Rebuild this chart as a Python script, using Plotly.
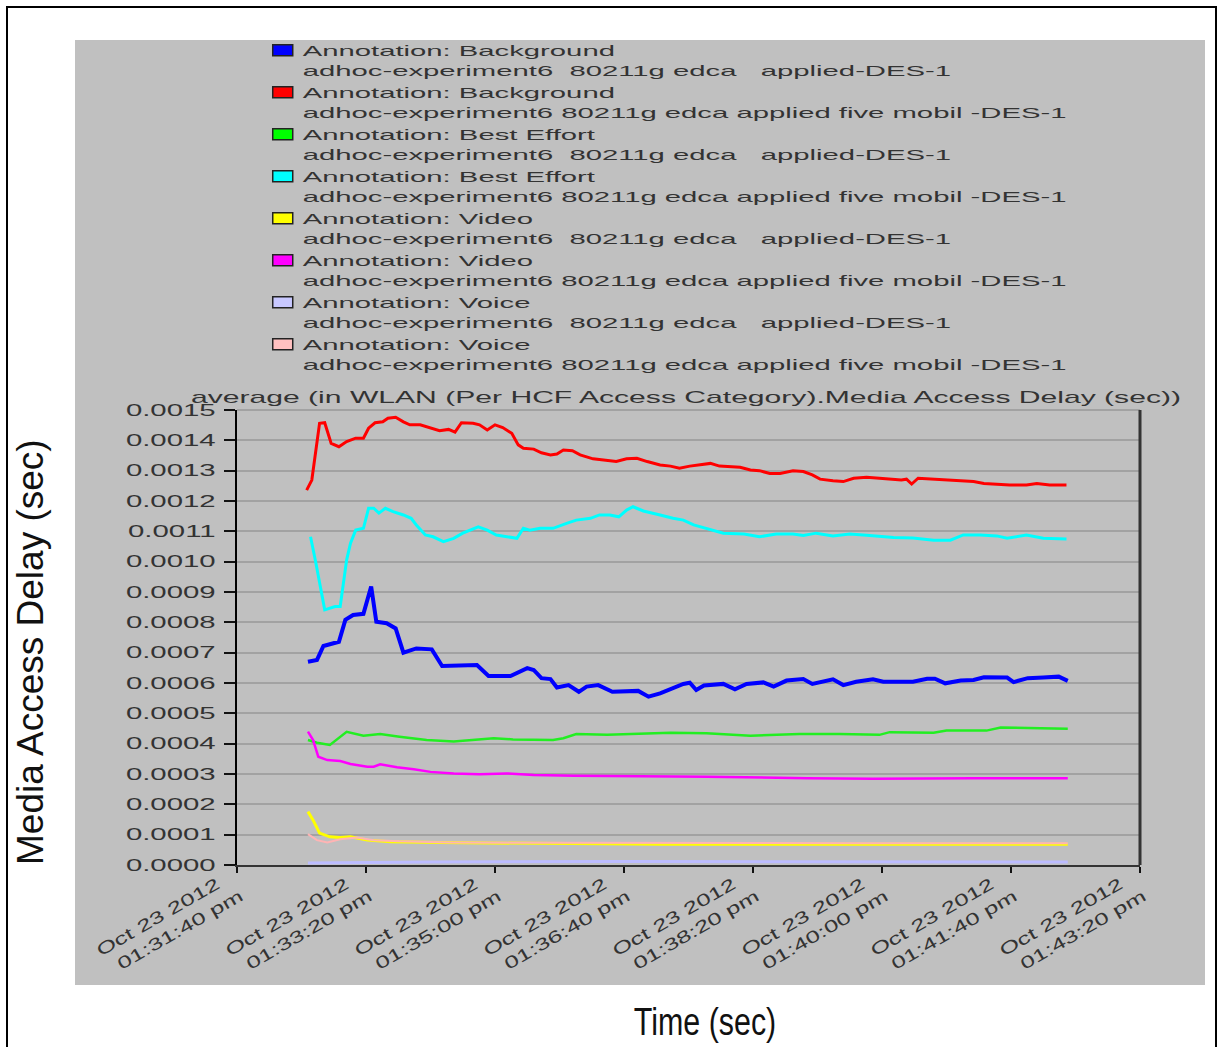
import pandas as pd
import plotly.graph_objects as go

# Simulation clock: samples are stored as elapsed seconds after 01:31:40 pm.
start = pd.Timestamp("2012-10-23 13:31:40")

# (elapsed seconds, media access delay in seconds)
bg_applied = [(55, 0.000670), (62, 0.000676), (67, 0.000722), (73, 0.000729), (79, 0.000736),
              (84, 0.000808), (90, 0.000824), (98, 0.000828), (104, 0.000918), (108, 0.000802),
              (116, 0.000797), (123, 0.000780), (129, 0.000700), (139, 0.000714), (151, 0.000711),
              (159, 0.000656), (170, 0.000656), (186, 0.000659), (195, 0.000623), (212, 0.000623),
              (225, 0.000649), (230, 0.000643), (236, 0.000616), (243, 0.000613), (248, 0.000585),
              (257, 0.000593), (265, 0.000571), (271, 0.000588), (280, 0.000593), (291, 0.000571),
              (311, 0.000574), (319, 0.000555), (328, 0.000566), (336, 0.000579), (346, 0.000597),
              (351, 0.000601), (356, 0.000577), (362, 0.000592), (377, 0.000597), (386, 0.000579),
              (395, 0.000597), (408, 0.000602), (416, 0.000588), (426, 0.000608), (439, 0.000613),
              (446, 0.000597), (462, 0.000612), (470, 0.000593), (480, 0.000604), (493, 0.000612),
              (501, 0.000604), (524, 0.000604), (535, 0.000614), (541, 0.000614), (549, 0.000599),
              (561, 0.000608), (571, 0.000610), (579, 0.000619), (597, 0.000618), (602, 0.000603),
              (613, 0.000616), (625, 0.000618), (637, 0.000621), (644, 0.000607)]

bg_mobile = [(54, 0.001236), (58, 0.001269), (64, 0.001456), (68, 0.001458), (73, 0.001390),
             (79, 0.001379), (85, 0.001396), (92, 0.001407), (98, 0.001407), (102, 0.001440),
             (107, 0.001458), (113, 0.001461), (117, 0.001473), (123, 0.001476), (129, 0.001461),
             (134, 0.001451), (142, 0.001451), (150, 0.001440), (157, 0.001432), (164, 0.001436),
             (169, 0.001427), (174, 0.001458), (183, 0.001456), (188, 0.001451), (194, 0.001434),
             (200, 0.001451), (206, 0.001442), (213, 0.001423), (218, 0.001385), (222, 0.001374),
             (230, 0.001371), (236, 0.001359), (243, 0.001352), (248, 0.001355), (253, 0.001368),
             (260, 0.001366), (266, 0.001352), (276, 0.001339), (287, 0.001335), (294, 0.001330),
             (302, 0.001339), (310, 0.001341), (318, 0.001330), (328, 0.001319), (336, 0.001315),
             (343, 0.001308), (351, 0.001315), (359, 0.001319), (367, 0.001324), (374, 0.001315),
             (390, 0.001311), (398, 0.001302), (405, 0.001300), (413, 0.001291), (421, 0.001291),
             (431, 0.001300), (439, 0.001297), (446, 0.001286), (452, 0.001272), (462, 0.001267),
             (470, 0.001264), (478, 0.001275), (488, 0.001278), (498, 0.001275), (509, 0.001272),
             (515, 0.001269), (519, 0.001272), (523, 0.001256), (528, 0.001275), (540, 0.001272),
             (555, 0.001269), (571, 0.001264), (579, 0.001258), (589, 0.001256), (599, 0.001253),
             (612, 0.001253), (620, 0.001258), (630, 0.001253), (643, 0.001253)]

be_applied = [(55, 0.000412), (62, 0.000403), (72, 0.000396), (79, 0.000418), (85, 0.000439),
              (98, 0.000426), (111, 0.000432), (126, 0.000423), (147, 0.000412), (168, 0.000407),
              (183, 0.000412), (199, 0.000418), (214, 0.000414), (245, 0.000412), (253, 0.000418),
              (263, 0.000432), (287, 0.000429), (307, 0.000432), (336, 0.000436), (364, 0.000434),
              (398, 0.000426), (436, 0.000432), (467, 0.000432), (498, 0.000429), (506, 0.000438),
              (540, 0.000436), (550, 0.000443), (581, 0.000443), (592, 0.000453), (623, 0.000451),
              (644, 0.000449)]

be_mobile = [(57, 0.001082), (61, 0.000999), (68, 0.000841), (76, 0.000852), (80, 0.000852),
             (85, 0.001006), (88, 0.001061), (92, 0.001104), (98, 0.001110), (102, 0.001176),
             (106, 0.001176), (110, 0.001160), (115, 0.001176), (121, 0.001165), (129, 0.001154),
             (135, 0.001143), (139, 0.001121), (146, 0.001088), (152, 0.001082), (160, 0.001066),
             (168, 0.001077), (175, 0.001094), (187, 0.001115), (194, 0.001104), (201, 0.001088),
             (209, 0.001082), (217, 0.001077), (222, 0.001110), (227, 0.001104), (235, 0.001110),
             (245, 0.001110), (256, 0.001127), (263, 0.001137), (274, 0.001143), (281, 0.001154),
             (289, 0.001154), (296, 0.001148), (302, 0.001170), (307, 0.001181), (315, 0.001167),
             (323, 0.001160), (328, 0.001154), (338, 0.001143), (346, 0.001137), (354, 0.001121),
             (364, 0.001110), (377, 0.001094), (393, 0.001091), (405, 0.001082), (418, 0.001091),
             (431, 0.001091), (439, 0.001086), (449, 0.001094), (462, 0.001085), (475, 0.001091),
             (488, 0.001087), (509, 0.001080), (524, 0.001078), (540, 0.001071), (553, 0.001071),
             (563, 0.001088), (576, 0.001088), (589, 0.001085), (597, 0.001077), (612, 0.001088),
             (625, 0.001077), (643, 0.001075)]

video_applied = [(55, 0.000176), (59, 0.000148), (64, 0.000105), (72, 0.000093), (80, 0.000091),
                 (88, 0.000093), (101, 0.000082), (119, 0.000077), (157, 0.000074), (209, 0.000072),
                 (328, 0.000068), (483, 0.000068), (644, 0.000068)]

video_mobile = [(55, 0.000440), (59, 0.000412), (63, 0.000357), (70, 0.000346), (80, 0.000343),
                (88, 0.000333), (101, 0.000324), (106, 0.000324), (111, 0.000332), (124, 0.000322),
                (137, 0.000316), (150, 0.000307), (168, 0.000302), (188, 0.000299), (209, 0.000302),
                (230, 0.000297), (261, 0.000294), (312, 0.000293), (364, 0.000291), (442, 0.000286),
                (493, 0.000284), (571, 0.000286), (644, 0.000286)]

voice_applied = [(55, 0.0000066), (150, 0.0000100), (300, 0.0000115), (450, 0.0000105), (644, 0.0000095)]

voice_mobile = [(55, 0.000102), (62, 0.000082), (70, 0.000074), (80, 0.000085), (93, 0.000091),
                (106, 0.000082), (126, 0.000078), (165, 0.000074), (243, 0.000073), (328, 0.000072),
                (483, 0.000072), (644, 0.000072)]

run_a = "adhoc-experiment6\u00a0 80211g edca\u00a0\u00a0 applied-DES-1"
run_b = "adhoc-experiment6 80211g edca applied five mobil -DES-1"

series = [
    ("Annotation: Background", run_a, bg_applied, "#0000ff", "#0000ff", 4),
    ("Annotation: Background", run_b, bg_mobile, "#ff0000", "#ff0000", 3),
    ("Annotation: Best Effort", run_a, be_applied, "#22ee22", "#00ff00", 2.5),
    ("Annotation: Best Effort", run_b, be_mobile, "#00ffff", "#00ffff", 3),
    ("Annotation: Video", run_a, video_applied, "#ffff00", "#ffff00", 3),
    ("Annotation: Video", run_b, video_mobile, "#ff00ff", "#ff00ff", 2.5),
    ("Annotation: Voice", run_a, voice_applied, "#bcbcff", "#c8c8ff", 3),
    ("Annotation: Voice", run_b, voice_mobile, "#ffb4b4", "#ffc0c0", 2),
]

tick_seconds = [0, 100, 200, 300, 400, 500, 600, 700]
tick_dates = ["Oct 23 2012"] * 8
tick_clock = ["01:31:40 pm", "01:33:20 pm", "01:35:00 pm", "01:36:40 pm",
              "01:38:20 pm", "01:40:00 pm", "01:41:40 pm", "01:43:20 pm"]
# date line is padded so the clock line sits further along the slanted baseline
tick_labels = [f"{d}\u00a0\u00a0<br>{c}" for d, c in zip(tick_dates, tick_clock)]
y_ticks = [i / 10000 for i in range(16)]


def to_time(secs):
    return start + pd.to_timedelta(secs, unit="s")


fig = go.Figure()
for i, (head, run, pts, line_col, key_col, lw) in enumerate(series):
    secs = [p[0] for p in pts]
    vals = [p[1] for p in pts]
    grp = f"s{i}"
    fig.add_trace(go.Scatter(
        x=to_time(secs), y=vals, mode="lines", name=f"{head}<br>{run}",
        line=dict(color=line_col, width=lw), legendgroup=grp, showlegend=False,
    ))
    # legend key drawn as a framed colour block
    fig.add_trace(go.Bar(
        x=[None], y=[None], name=f"{head}<br>{run}", legendgroup=grp,
        marker=dict(color=key_col, line=dict(color="#222222", width=1.5)),
    ))

AX_FONT = "Liberation Sans, Arial, sans-serif"
TXT = "#333333"

fig.update_layout(
    width=1219, height=1047,
    margin=dict(l=237, r=79, t=410, b=182),
    paper_bgcolor="white",
    plot_bgcolor="#f0f0f0",
    font=dict(family=AX_FONT, color=TXT),
    showlegend=True,
    legend=dict(
        x=0.0285, xanchor="left", y=1 - 34 / 1047, yanchor="top", yref="container",
        bgcolor="rgba(0,0,0,0)", font=dict(size=15, color=TXT, family=AX_FONT),
        valign="top", traceorder="normal",
    ),
    title=dict(
        text="average (in WLAN (Per HCF Access Category).Media Access Delay (sec))",
        x=(686 - 237) / 903, xref="paper", xanchor="center",
        y=1 - 397 / 1047, yref="container", yanchor="middle",
        font=dict(size=17, color=TXT, family=AX_FONT),
    ),
    xaxis=dict(
        type="date",
        range=[to_time(0), to_time(700)],
        tickmode="array",
        tickvals=list(to_time(tick_seconds)),
        ticktext=tick_labels,
        tickangle=-30,
        tickfont=dict(size=17, color=TXT, family=AX_FONT),
        ticks="outside", ticklen=6, tickwidth=2, tickcolor="#111111",
        ticklabelshift=-8, ticklabelstandoff=-12,
        showgrid=False, zeroline=False,
        showline=True, linecolor="#333333", linewidth=2,
    ),
    yaxis=dict(
        range=[0, 0.0015],
        tickmode="array", tickvals=y_ticks, tickformat=".4f",
        tickfont=dict(size=16.5, color=TXT, family=AX_FONT),
        ticks="outside", ticklen=11, tickwidth=1.5, tickcolor="#111111",
        ticklabelstandoff=5,
        showgrid=True, gridcolor="#a2a2a2", gridwidth=2,
        zeroline=False,
        showline=True, linecolor="#000000", linewidth=2,
    ),
    shapes=[
        # grey chart panel behind the plot
        dict(type="rect", xref="paper", yref="paper", layer="below",
             x0=(75 - 237) / 903, x1=(1205 - 237) / 903,
             y0=(865 - 985) / 455, y1=(865 - 40) / 455,
             fillcolor="#c0c0c0", line=dict(width=0)),
        # outer frame
        dict(type="rect", xref="paper", yref="paper", layer="above",
             x0=(7 - 237) / 903, x1=(1216 - 237) / 903,
             y0=(865 - 1060) / 455, y1=(865 - 7) / 455,
             fillcolor="rgba(0,0,0,0)", line=dict(color="#000000", width=2)),
        # plot frame: top and right edges
        dict(type="line", xref="paper", yref="paper", x0=0, x1=1, y0=1, y1=1,
             line=dict(color="#a2a2a2", width=2)),
        dict(type="line", xref="paper", yref="paper", x0=1, x1=1, y0=0, y1=1,
             line=dict(color="#333333", width=3)),
    ],
    annotations=[
        dict(text="Media Access Delay (sec)", xref="paper", yref="paper",
             x=(30 - 237) / 903, y=(865 - 652) / 455, textangle=-90,
             showarrow=False, xanchor="center", yanchor="middle",
             font=dict(size=37, color="#111111", family=AX_FONT)),
        dict(text="Time (sec)", xref="paper", yref="paper",
             x=(705 - 237) / 903, y=(865 - 1022) / 455,
             showarrow=False, xanchor="center", yanchor="middle",
             font=dict(size=38, color="#111111", family=AX_FONT)),
    ],
)

# The chart text uses a horizontally widened face (and the axis caption a narrow one);
# emulate both by scaling the glyph runs along their baselines.  Legend keys are
# drawn as wide framed blocks.
widen_text = """
var gd = document.getElementById('{plot_id}');
function scaleRuns(nodes, k) {
  nodes.forEach(function (t) {
    var parts = t.querySelectorAll('tspan.line');
    var els = parts.length ? Array.prototype.slice.call(parts) : [t];
    els.forEach(function (el) {
      var w = el.getComputedTextLength();
      if (w > 0) {
        el.setAttribute('textLength', (w * k).toFixed(1));
        el.setAttribute('lengthAdjust', 'spacingAndGlyphs');
      }
    });
  });
}
function widen(selector, k) { scaleRuns(gd.querySelectorAll(selector), k); }
gd.querySelectorAll('g.legend [clip-path], g.legend').forEach(function (el) {
  el.removeAttribute('clip-path');
});
gd.querySelectorAll('g.legend g.legendpoints path').forEach(function (p) {
  p.setAttribute('d', 'M10,5.5H-10V-5.5H10Z');
});
widen('g.legend text.legendtext', 1.95);
widen('g.ytick text', 1.78);
widen('g.xtick text', 1.5);
widen('text.gtitle', 1.77);
var caps = Array.prototype.filter.call(gd.querySelectorAll('text.annotation-text'),
  function (t) { return t.textContent === 'Time (sec)'; });
scaleRuns(caps, 0.8);
"""

fig.write_html("out.html", post_script=widen_text)
